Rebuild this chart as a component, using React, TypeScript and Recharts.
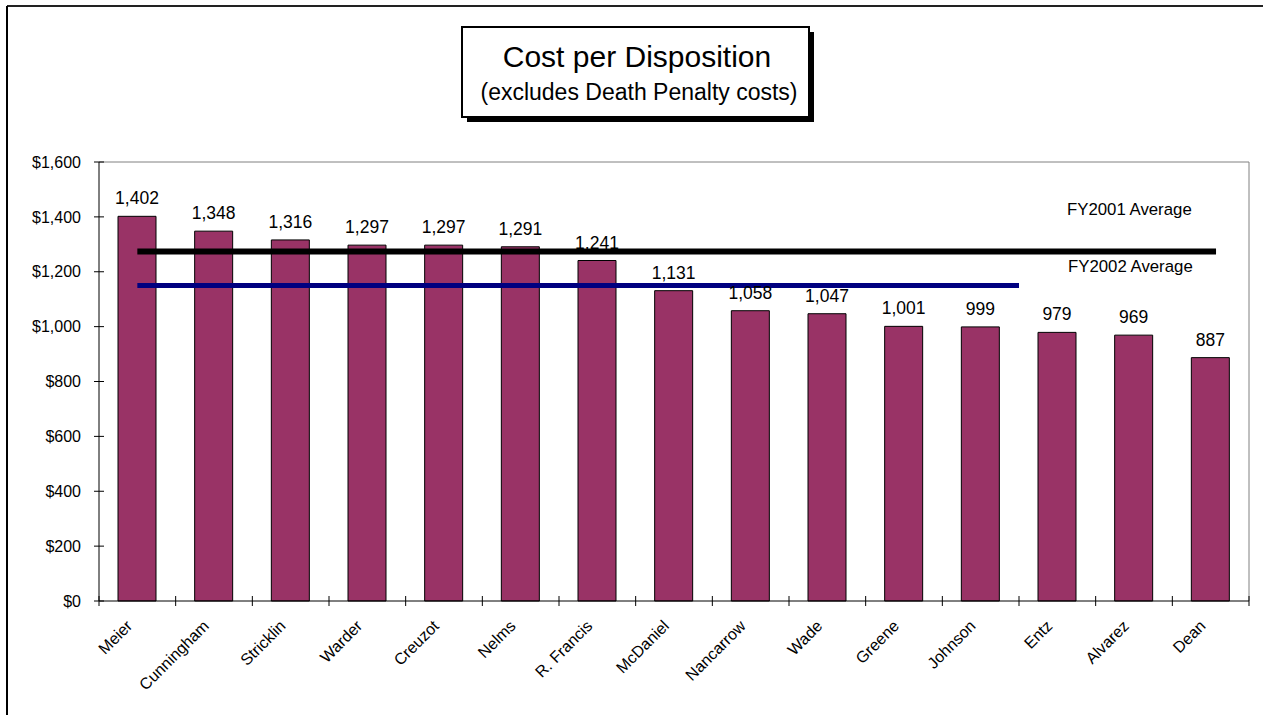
import React from "react";
import { Bar, ComposedChart, LabelList, ReferenceLine, XAxis, YAxis } from "recharts";

const judges = [
  "Meier", "Cunningham", "Stricklin", "Warder", "Creuzot", "Nelms", "R. Francis", "McDaniel",
  "Nancarrow", "Wade", "Greene", "Johnson", "Entz", "Alvarez", "Dean",
];
const costs = [1402, 1348, 1316, 1297, 1297, 1291, 1241, 1131, 1058, 1047, 1001, 999, 979, 969, 887];
const yTicks = [0, 200, 400, 600, 800, 1000, 1200, 1400, 1600];
const slotTicks = [0, 1, 2, 3, 4, 5, 6, 7, 8, 9, 10, 11, 12, 13, 14, 15];
const avg2001 = 1274;
const avg2002 = 1150;

// slot = middle of each category on a 0..15 numeric axis (used for boundary ticks and the average lines)
const data = judges.map((name, i) => ({ name, slot: i + 0.5, cost: costs[i] }));

const FONT = "Arial, 'Liberation Sans', sans-serif";

function NameTick(props: any) {
  const { x, y, payload } = props;
  return (
    <g transform={`translate(${x - 4},${y + 25}) rotate(-45)`}>
      <text x={0} y={0} textAnchor="end" fontSize={16} fill="#000" fontFamily={FONT}>
        {payload.value}
      </text>
    </g>
  );
}

export default function App() {
  return (
    <div style={{ position: "absolute", left: 0, top: 0, width: 1263, height: 715, overflow: "hidden", background: "#fff" }}>
      <ComposedChart
        width={1263}
        height={715}
        data={data}
        margin={{ top: 162, right: 14, bottom: 112, left: 0 }}
        style={{ fontFamily: FONT }}
      >
        <XAxis
          xAxisId="a"
          type="number"
          dataKey="slot"
          domain={[0, 15]}
          allowDataOverflow={true}
          ticks={slotTicks}
          tickFormatter={() => ""}
          height={1}
          tickSize={10}
          tickLine={{ stroke: "#000", transform: "translate(0 -5)" }}
          axisLine={{ stroke: "#000" }}
        />
        <XAxis
          xAxisId="b"
          dataKey="name"
          interval={0}
          height={1}
          tickSize={0}
          tickMargin={0}
          tickLine={false}
          axisLine={false}
          tick={<NameTick />}
        />
        <YAxis
          domain={[0, 1600]}
          ticks={yTicks}
          width={99}
          tickSize={10}
          tickMargin={8}
          tickLine={{ stroke: "#000", transform: "translate(5 0)" }}
          axisLine={{ stroke: "#000" }}
          tick={{ fill: "#000", fontSize: 16 }}
          tickFormatter={(v: number) => "$" + v.toLocaleString("en-US")}
        />
        <ReferenceLine xAxisId="a" y={1600} stroke="#808080" />
        <ReferenceLine xAxisId="a" x={15} stroke="#808080" ifOverflow="visible" />
        <Bar xAxisId="b" dataKey="cost" fill="#993366" stroke="#000" strokeWidth={1} barSize={38} isAnimationActive={false}>
          <LabelList
            dataKey="cost"
            position="top"
            offset={12}
            fill="#000"
            fontSize={17.5}
            formatter={(v: any) => Number(v).toLocaleString("en-US")}
          />
        </Bar>
        <ReferenceLine
          xAxisId="a"
          stroke="#000"
          strokeWidth={6}
          ifOverflow="visible"
          segment={[{ x: 0.5, y: avg2001 }, { x: 14.57, y: avg2001 }]}
        />
        <ReferenceLine
          xAxisId="a"
          stroke="#000080"
          strokeWidth={5}
          ifOverflow="visible"
          segment={[{ x: 0.5, y: avg2002 }, { x: 12, y: avg2002 }]}
        />
      </ComposedChart>
      <svg width={1263} height={715} style={{ position: "absolute", left: 0, top: 0, pointerEvents: "none" }}>
        <line x1={7} y1={6} x2={1263} y2={6} stroke="#222" strokeWidth={2} />
        <line x1={7} y1={6} x2={7} y2={715} stroke="#000" strokeWidth={2} />
        <rect x={467} y={32} width={347} height={90} fill="#000" />
        <rect x={462} y={27} width={347} height={90} fill="#fff" stroke="#000" strokeWidth={2} />
        <text x={637} y={67} textAnchor="middle" fontSize={30} fontFamily={FONT} fill="#000">
          Cost per Disposition
        </text>
        <text x={639} y={100} textAnchor="middle" fontSize={23} fontFamily={FONT} fill="#000">
          (excludes Death Penalty costs)
        </text>
        <text x={1067} y={215} fontSize={16.8} fontFamily={FONT} fill="#000">
          FY2001 Average
        </text>
        <text x={1068} y={272} fontSize={16.8} fontFamily={FONT} fill="#000">
          FY2002 Average
        </text>
      </svg>
    </div>
  );
}
